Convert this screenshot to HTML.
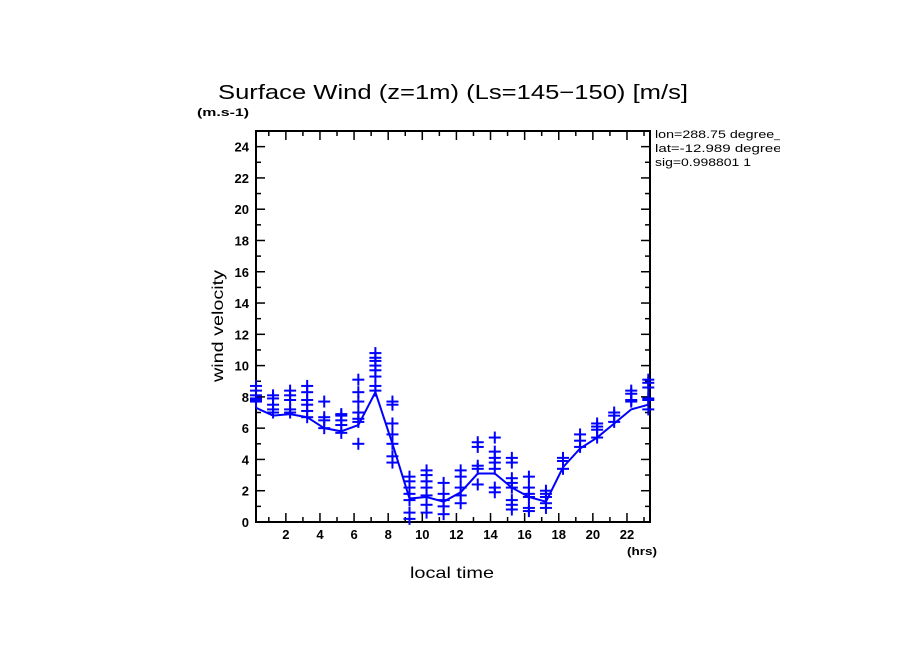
<!DOCTYPE html>
<html><head><meta charset="utf-8"><style>
body{margin:0;background:#fff;}
svg{display:block;font-family:"Liberation Sans",sans-serif;}
</style></head><body>
<svg id="c" width="904" height="654">
<text x="218" y="99" font-size="20" textLength="470" lengthAdjust="spacingAndGlyphs">Surface Wind (z=1m) (Ls=145−150) [m/s]</text>
<text x="197" y="116" font-size="11" font-weight="bold" textLength="52" lengthAdjust="spacingAndGlyphs">(m.s-1)</text>
<text x="655" y="138" font-size="11" textLength="135" lengthAdjust="spacingAndGlyphs">lon=288.75 degree_e</text>
<text x="655" y="152" font-size="11" textLength="135" lengthAdjust="spacingAndGlyphs">lat=-12.989 degree_</text>
<text x="655" y="166" font-size="11" textLength="96" lengthAdjust="spacingAndGlyphs">sig=0.998801 1</text>
<rect x="780" y="125" width="40" height="50" fill="#fff"/>
<text transform="translate(223,326) rotate(-90)" font-size="16" text-anchor="middle" textLength="112" lengthAdjust="spacingAndGlyphs">wind velocity</text>
<text x="410" y="578" font-size="16" textLength="84" lengthAdjust="spacingAndGlyphs">local time</text>
<text x="627" y="555" font-size="11" font-weight="bold" textLength="30" lengthAdjust="spacingAndGlyphs">(hrs)</text>
<g id="axes"></g><g id="marks"></g>
</svg>
<script>
const hours=[0.25,1.25,2.25,3.25,4.25,5.25,6.25,7.25,8.25,9.25,10.25,11.25,12.25,13.25,14.25,15.25,16.25,17.25,18.25,19.25,20.25,21.25,22.25,23.25];
const meanWind=[7.3,6.8,6.9,6.7,6.0,5.8,6.2,8.3,5.0,1.5,1.6,1.3,1.9,3.1,3.1,2.2,1.6,1.3,3.5,4.7,5.4,6.3,7.2,7.5];
const samples=[[8.7,8.4,8.1,7.9,7.8,7.7],[8.1,7.9,7.5,7.2,7.0],[8.4,8.1,7.8,7.2,7.0],[8.7,8.3,7.8,7.5,7.1,6.7],[7.7,6.7,6.5,6.0],[6.9,6.8,6.5,6.2,5.7],[9.1,8.3,7.7,7.0,6.6,6.4,5.0],[10.8,10.5,10.3,10.0,9.7,9.3,8.7,8.4],[7.7,7.5,6.3,5.6,5.0,4.2,3.8],[2.9,2.6,2.2,1.8,1.4,0.6,0.2],[3.3,3.0,2.6,2.2,1.7,1.1,0.6],[2.5,1.8,1.4,1.0,0.5],[3.3,2.9,2.2,1.7,1.2],[5.1,4.8,3.6,3.4,2.4],[5.4,4.5,4.1,3.8,3.4,2.2,1.9],[4.1,3.8,2.8,2.5,2.2,1.4,1.1,0.8],[2.9,2.2,1.8,1.6,0.9,0.7],[2.0,1.8,1.6,1.2,0.9],[4.1,3.9,3.4],[5.6,5.2,4.8],[6.3,6.1,5.9,5.4],[7.0,6.8,6.4],[8.4,8.2,7.8,7.7],[9.1,8.9,8.6,7.9,7.8,7.2]];
const yTicks=[0,2,4,6,8,10,12,14,16,18,20,22,24];
const xTicks=[2,4,6,8,10,12,14,16,18,20,22];
const L=256,R=650,T=131,B=522,X0=0.25,X1=23.35,Y1=25;
const sx=v=>L+(v-X0)/(X1-X0)*(R-L);
const sy=v=>B-v/Y1*(B-T);
const NS="http://www.w3.org/2000/svg";
function mk(p,t,a){const e=document.createElementNS(NS,t);for(const k in a)e.setAttribute(k,a[k]);p.appendChild(e);return e;}
const ax=document.getElementById('axes'),mg=document.getElementById('marks');
const fr=mk(ax,'rect',{x:L,y:T,width:R-L,height:B-T,fill:'none',stroke:'#000','stroke-width':2});


for(let v=1;v<=24;v++){const y=sy(v),len=v%2?5:9;
 mk(ax,'line',{x1:L,x2:L+len,y1:y,y2:y,stroke:'#000','stroke-width':1.5});
 mk(ax,'line',{x1:R,x2:R-len,y1:y,y2:y,stroke:'#000','stroke-width':1.5});}
yTicks.forEach(v=>{const t=mk(ax,'text',{x:249,y:sy(v)+5,'font-size':13,'font-weight':'bold','text-anchor':'end'});t.textContent=v;
 
 });
for(let h=1;h<=23;h++){const x=sx(h),len=h%2?5:9;
 mk(ax,'line',{x1:x,x2:x,y1:B,y2:B-len,stroke:'#000','stroke-width':1.5});
 mk(ax,'line',{x1:x,x2:x,y1:T,y2:T+len,stroke:'#000','stroke-width':1.5});}
xTicks.forEach(h=>{const t=mk(ax,'text',{x:sx(h),y:539,'font-size':13,'font-weight':'bold','text-anchor':'middle'});t.textContent=h;
 
 });
samples.forEach((s,i)=>{const x=sx(hours[i]);
 const g=mk(mg,'g',{stroke:'#0000ff','stroke-width':2});
 
 
 s.forEach(v=>{const y=sy(v);mk(g,'line',{x1:x-6,x2:x+6,y1:y,y2:y});mk(g,'line',{x1:x,x2:x,y1:y-6,y2:y+6});});});
const ln=mk(mg,'polyline',{points:hours.map((h,i)=>sx(h)+','+sy(meanWind[i])).join(' '),fill:'none',stroke:'#0000ff','stroke-width':2});


</script>
</body></html>
